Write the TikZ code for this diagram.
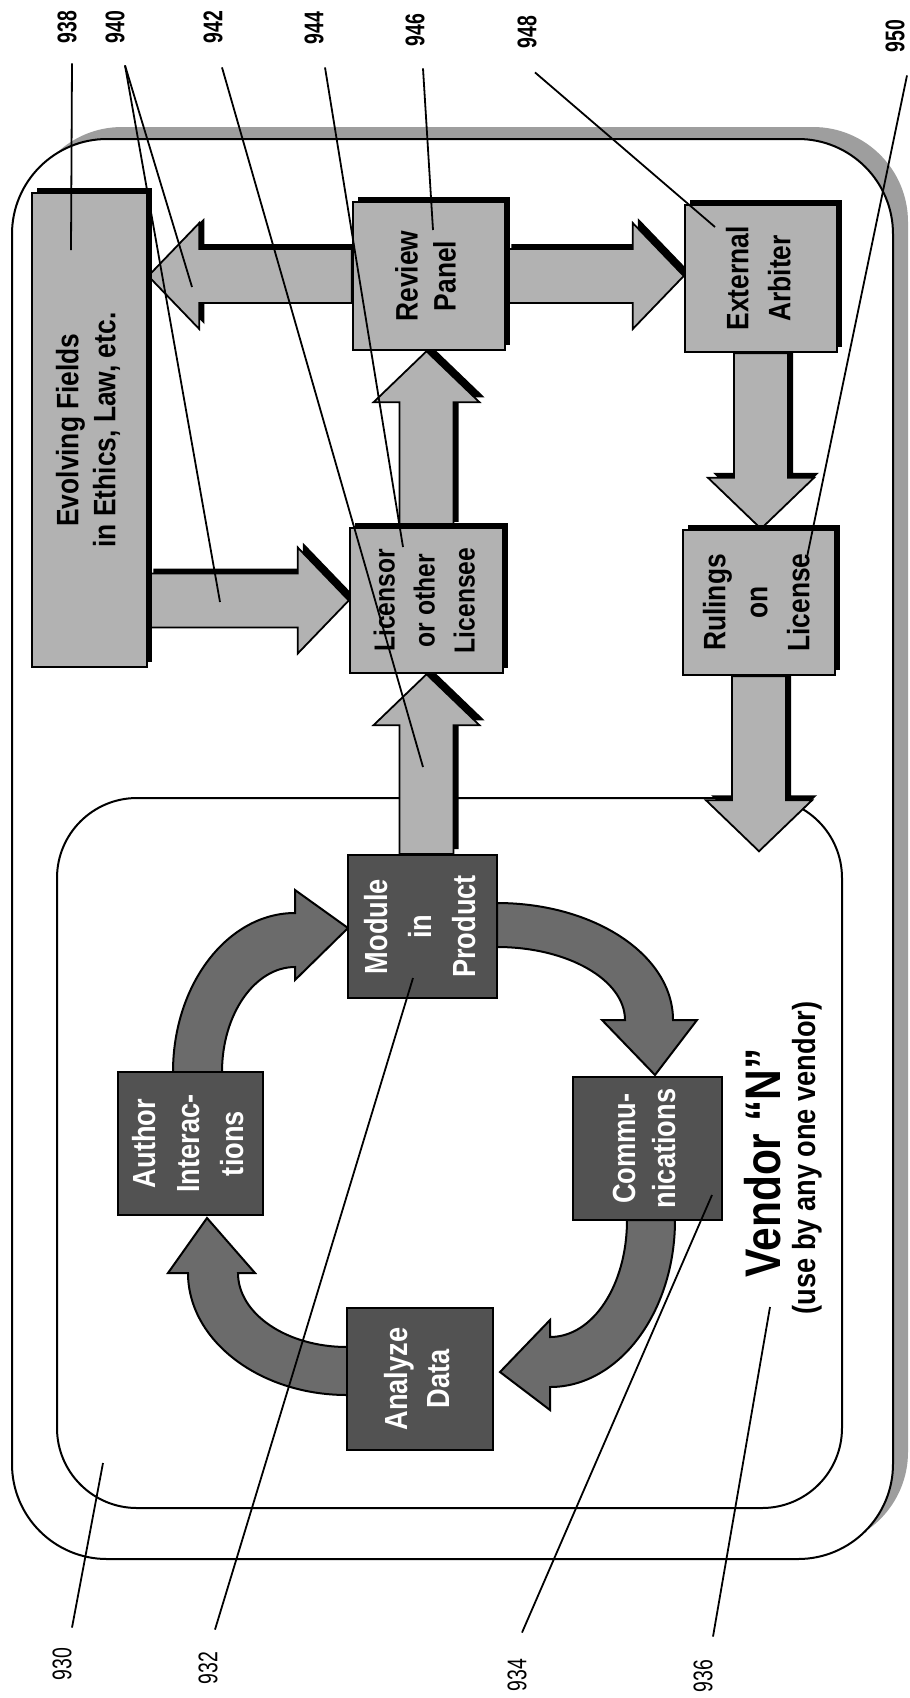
\documentclass[tikz,border=0pt]{standalone}
\usepackage{fontspec}
\setmainfont{Liberation Sans}[FakeStretch=0.85]
\newfontfamily\numfont{Liberation Sans}[FakeStretch=0.72]
\usepackage{graphicx}
\usetikzlibrary{calc,shadows}
\pgfdeclarelayer{back}
\pgfdeclarelayer{mid}
\pgfsetlayers{back,mid,main}
\definecolor{lightfill}{gray}{0.70}
\definecolor{darkfill}{gray}{0.32}
\definecolor{curvefill}{gray}{0.42}
\definecolor{framesh}{gray}{0.62}
\newcommand\BAsh{27pt}
\newcommand\BAhh{53pt}
\newcommand\BAhl{51pt}
\newcommand\boxtxt[3]{\rotatebox{90}{\fontsize{#1}{#2}\selectfont\bfseries\begin{tabular}{@{}c@{}}#3\end{tabular}}}
\newcommand\arrowR[2]{\draw[blockarrow] let \p1=(#1), \p2=(#2) in (\x1,\y1+\BAsh) -- (\x2-\BAhl,\y1+\BAsh) -- (\x2-\BAhl,\y1+\BAhh) -- (\x2,\y1) -- (\x2-\BAhl,\y1-\BAhh) -- (\x2-\BAhl,\y1-\BAsh) -- (\x1,\y1-\BAsh) -- cycle;}
\newcommand\arrowL[2]{\draw[blockarrow] let \p1=(#1), \p2=(#2) in (\x1,\y1+\BAsh) -- (\x2+\BAhl,\y1+\BAsh) -- (\x2+\BAhl,\y1+\BAhh) -- (\x2,\y1) -- (\x2+\BAhl,\y1-\BAhh) -- (\x2+\BAhl,\y1-\BAsh) -- (\x1,\y1-\BAsh) -- cycle;}
\newcommand\arrowU[2]{\draw[blockarrow] let \p1=(#1), \p2=(#2) in (\x1-\BAsh,\y1) -- (\x1-\BAsh,\y2-\BAhl) -- (\x1-\BAhh,\y2-\BAhl) -- (\x1,\y2) -- (\x1+\BAhh,\y2-\BAhl) -- (\x1+\BAsh,\y2-\BAhl) -- (\x1+\BAsh,\y1) -- cycle;}
\newcommand\arrowD[2]{\draw[blockarrow] let \p1=(#1), \p2=(#2) in (\x1-\BAsh,\y1) -- (\x1-\BAsh,\y2+\BAhl) -- (\x1-\BAhh,\y2+\BAhl) -- (\x1,\y2) -- (\x1+\BAhh,\y2+\BAhl) -- (\x1+\BAsh,\y2+\BAhl) -- (\x1+\BAsh,\y1) -- cycle;}
\tikzset{
  frame/.style={draw=black, line width=2pt, fill=white},
  lbox/.style={draw=black, line width=2.5pt, fill=lightfill, inner sep=0pt,
    drop shadow={fill=black, opacity=1, shadow xshift=5pt, shadow yshift=5pt}},
  dbox/.style={draw=black, line width=2pt, fill=darkfill, inner sep=0pt, text=white},
  blockarrow/.style={draw=black, line width=1.8pt, fill=lightfill,
    drop shadow={fill=black, opacity=1, shadow xshift=5pt, shadow yshift=5pt}},
  curvearrow/.style={draw=black, line width=2pt, fill=curvefill, line join=miter},
  leader/.style={line width=1.8pt},
  toplabel/.style={rotate=90, inner sep=0pt, font={\numfont\bfseries\fontsize{27}{27}\selectfont}},
  botlabel/.style={rotate=90, inner sep=0pt, font={\numfont\fontsize{27}{27}\selectfont}},
}
\begin{document}
\begin{tikzpicture}[x=1pt,y=-1pt]
\useasboundingbox (0,0) rectangle (910,1698);
\begin{pgfonlayer}{back}
\fill[white] (0,0) rectangle (910,1698);
\draw[frame, rounded corners=95pt, drop shadow={fill=framesh, opacity=1, shadow xshift=15pt, shadow yshift=12pt}] (12,139) rectangle (893,1559);
\draw[frame, rounded corners=80pt] (57,798) rectangle (842,1508);
\end{pgfonlayer}

% boxes
\node[lbox, minimum width=115pt, minimum height=474pt] (ev) at (89.5,430) {\boxtxt{31}{37}{Evolving Fields\\in Ethics, Law, etc.}};
\node[lbox, minimum width=152pt, minimum height=148pt] (rev) at (429,276) {\boxtxt{31}{38}{Review\\Panel}};
\node[lbox, minimum width=152pt, minimum height=147pt] (arb) at (761,278.5) {\boxtxt{31}{42}{External\\Arbiter}};
\node[lbox, minimum width=153pt, minimum height=145pt] (lic) at (426.5,600.5) {\boxtxt{29}{40}{Licensor\\or other\\Licensee}};
\node[lbox, minimum width=152pt, minimum height=145pt] (rul) at (759,602.5) {\boxtxt{31}{42}{Rulings\\on\\License}};
\node[dbox, minimum width=149pt, minimum height=143pt] (mod) at (422.5,926.5) {\boxtxt{32}{44}{Module\\in\\Product}};
\node[dbox, minimum width=145pt, minimum height=143pt] (aut) at (190.5,1143.5) {\boxtxt{32}{44}{Author\\Interac-\\tions}};
\node[dbox, minimum width=149pt, minimum height=143pt] (com) at (647.5,1148.5) {\boxtxt{32}{40}{Commu-\\nications}};
\node[dbox, minimum width=146pt, minimum height=142pt] (ana) at (420,1379) {\boxtxt{32}{42}{Analyze\\Data}};

\coordinate (rout) at ($(rul.south)+(3,175)$);

\begin{pgfonlayer}{mid}
\arrowR{ev.east |- lic.west}{lic.west}
\arrowL{rev.west}{ev.east |- rev.west}
\arrowR{rev.east}{arb.west |- rev.east}
\arrowU{lic.north}{rev.south -| lic.north}
\arrowU{lic.south |- mod.north}{lic.south}
\arrowD{arb.south}{rul.north -| arb.south}
\arrowD{rul.south}{rout}
% curved cycle arrows
\draw[curvearrow] (173,1072) .. controls (173,984) and (228,913) .. (295,913) -- (295,890) -- (348,928) -- (295,980) -- (295,967) .. controls (255,967) and (222,1014) .. (222,1072) -- cycle;
\draw[curvearrow] (497,903) .. controls (594,903) and (673,955) .. (673,1020) -- (697,1020) -- (655,1075) -- (602,1020) -- (625,1020) .. controls (625,980) and (568,947) .. (497,947) -- cycle;
\draw[curvearrow] (675,1220) .. controls (675,1312) and (619,1387) .. (550,1387) -- (550,1410) -- (500,1372) -- (550,1320) -- (550,1337) .. controls (593,1337) and (627,1285) .. (627,1220) -- cycle;
\draw[curvearrow] (347,1395) .. controls (259,1395) and (188,1340) .. (188,1273) -- (168,1273) -- (207,1218) -- (255,1273) -- (238,1273) .. controls (238,1314) and (287,1347) .. (347,1347) -- cycle;
\end{pgfonlayer}

% vendor title
\node[rotate=90, anchor=base, inner sep=0pt, font={\bfseries\fontsize{50}{50}\selectfont}] (vend) at (780,1163) {Vendor “N”};
\node[rotate=90, anchor=base, inner sep=0pt, font={\bfseries\fontsize{32}{32}\selectfont}] (vsub) at (815,1158) {(use by any one vendor)};

% reference labels
\node[toplabel] (l938) at (67,27) {938};
\node[toplabel] (l940) at (115,27) {940};
\node[toplabel] (l942) at (213,27) {942};
\node[toplabel] (l944) at (314,28) {944};
\node[toplabel] (l946) at (415,30) {946};
\node[toplabel] (l948) at (527,32) {948};
\node[toplabel] (l950) at (895,36) {950};
\node[botlabel] (l930) at (62,1664) {930};
\node[botlabel] (l932) at (208,1668) {932};
\node[botlabel] (l934) at (517,1675) {934};
\node[botlabel] (l936) at (703,1676) {936};

\coordinate (e938) at (71,250);
\coordinate (e940a) at (192,287);
\coordinate (e940b) at (220,602);
\coordinate (e942) at (423,767);
\coordinate (e944) at (403,547);
\coordinate (e946) at (433,230);
\coordinate (e948) at (715,227);
\coordinate (e950) at (807,557);
\coordinate (e930) at (103,1463);
\coordinate (e932) at (413,978);
\coordinate (e934) at (712,1195);
\coordinate (e936) at (770,1307);

\draw[leader] ($(l938.west)+(5,20)$) -- (e938);
\draw[leader] ($(l940.west)+(10,22)$) -- (e940a);
\draw[leader] ($(l940.west)+(10,22)$) -- (e940b);
\draw[leader] ($(l942.west)+(9,24)$) -- (e942);
\draw[leader] ($(l944.west)+(11,23)$) -- (e944);
\draw[leader] ($(l946.west)+(8,22)$) -- (e946);
\draw[leader] ($(l948.west)+(8,24)$) -- (e948);
\draw[leader] ($(l950.west)+(12,23)$) -- (e950);
\draw[leader] ($(l930.east)+(10,-20)$) -- (e930);
\draw[leader] ($(l932.east)+(7,-22)$) -- (e932);
\draw[leader] ($(l934.east)+(5,-26)$) -- (e934);
\draw[leader] ($(l936.east)+(10,-23)$) -- (e936);
\end{tikzpicture}
\end{document}
